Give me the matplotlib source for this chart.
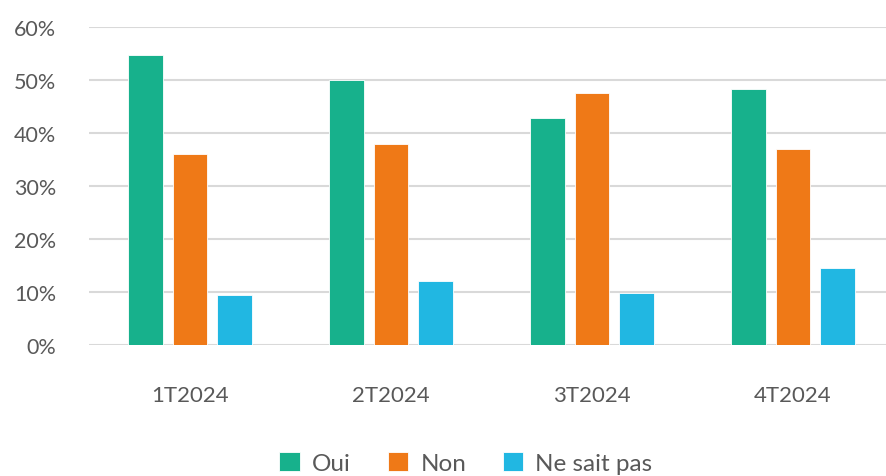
import numpy as np
import matplotlib.pyplot as plt
from matplotlib.ticker import PercentFormatter

periods = ['1T2024', '2T2024', '3T2024', '4T2024']
oui = [54.8, 50.0, 42.8, 48.4]
non = [36.1, 38.0, 47.6, 37.1]
nsp = [9.4, 12.1, 9.9, 14.5]

series = [('Oui', oui, '#17B18C'),
          ('Non', non, '#EF7917'),
          ('Ne sait pas', nsp, '#21B7E2')]

plt.rcParams['font.family'] = ['Lato', 'DejaVu Sans']
txt = '#595959'

fig = plt.figure(figsize=(8.87, 4.77), dpi=100)
fig.set_facecolor('white')
ax = fig.add_axes([89.5 / 887, 131 / 477, 804 / 887, 317.7 / 477])

x = np.arange(len(periods))
w = 0.174
step = 0.221
for i, (name, vals, col) in enumerate(series):
    ax.bar(x + (i - 1) * step, vals, width=w, color=col, label=name,
           edgecolor='white', linewidth=0.6, zorder=3)

ax.set_xlim(-0.5, 3.5)
ax.set_ylim(0, 60)
ax.set_yticks(np.arange(0, 61, 10))
ax.yaxis.set_major_formatter(PercentFormatter(decimals=0))
ax.set_xticks(x)
ax.set_xticklabels(periods)
ax.grid(axis='y', color='#d9d9d9', linewidth=1.5, zorder=0)
for s in ax.spines.values():
    s.set_visible(False)
ax.tick_params(axis='y', length=0, pad=24, labelsize=15.5, labelcolor=txt)
ax.tick_params(axis='x', length=0, pad=29, labelsize=16, labelcolor=txt)

fig.legend(loc='center', bbox_to_anchor=(466 / 887, 13 / 477), ncol=3,
           frameon=False, fontsize=17.5, labelcolor=txt,
           handlelength=0.85, handleheight=0.85, handletextpad=0.5,
           columnspacing=1.5)

fig.savefig('out.png', dpi=100, facecolor=fig.get_facecolor())
